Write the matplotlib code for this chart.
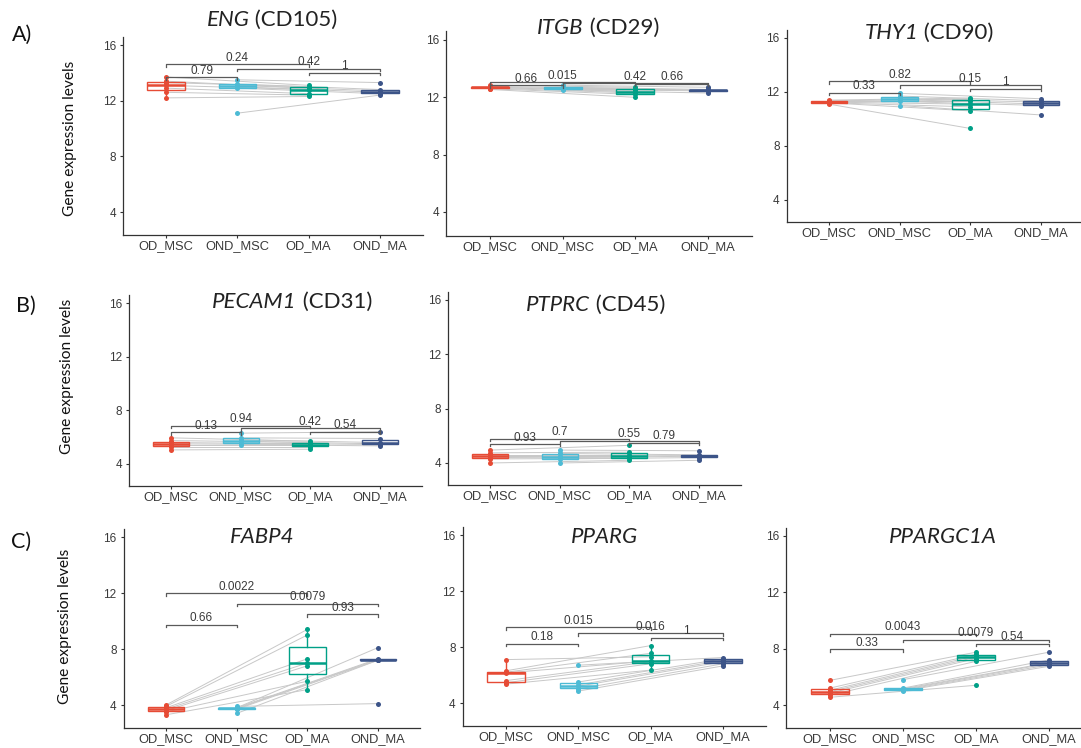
import numpy as np
import matplotlib
matplotlib.use("Agg")
import matplotlib.pyplot as plt

groups = ["OD_MSC", "OND_MSC", "OD_MA", "OND_MA"]
group_colors = ["#E64B35", "#4DBBD5", "#00A087", "#3C5488"]

# Pairwise tests shown as brackets (group indices)
comparisons = [(0, 1), (0, 2), (1, 3), (2, 3)]
# Paired samples joined by grey lines: OD_MSC -> OD_MA, OND_MSC -> OND_MA
pairs = [(0, 2), (1, 3)]

y_ticks = [4, 8, 12, 16]

# Expression values per group, listed in sample (pair) order:
# [OD_MSC, OND_MSC, OD_MA, OND_MA]
eng = [[13.7, 13.4, 13.3, 13.1, 12.9, 12.6, 12.2],
       [13.5, 13.2, 13.1, 13.0, 12.9, 11.1],
       [13.1, 12.9, 13.0, 12.8, 12.5, 12.4, 12.3],
       [13.3, 12.8, 12.7, 12.6, 12.5, 12.4]]
itgb = [[12.85, 12.75, 12.7, 12.7, 12.65, 12.6, 12.55],
        [12.85, 12.7, 12.65, 12.6, 12.55, 12.5],
        [12.7, 12.6, 12.5, 12.4, 12.3, 12.2, 12.0],
        [12.7, 12.55, 12.5, 12.5, 12.45, 12.3]]
thy1 = [[11.4, 11.35, 11.3, 11.25, 11.2, 11.2, 11.1],
        [11.9, 11.7, 11.5, 11.45, 11.3, 11.0],
        [11.55, 11.45, 11.3, 11.1, 10.9, 10.6, 9.3],
        [11.5, 11.35, 11.25, 11.1, 11.0, 10.3]]
pecam1 = [[5.95, 5.75, 5.6, 5.5, 5.4, 5.3, 5.05],
          [6.3, 5.95, 5.8, 5.7, 5.55, 5.45],
          [5.7, 5.6, 5.5, 5.45, 5.4, 5.3, 5.1],
          [6.4, 5.9, 5.6, 5.5, 5.45, 5.35]]
ptprc = [[4.95, 4.75, 4.6, 4.5, 4.4, 4.3, 4.0],
         [4.95, 4.7, 4.5, 4.4, 4.3, 4.0],
         [5.3, 4.8, 4.6, 4.5, 4.45, 4.35, 4.2],
         [4.9, 4.6, 4.55, 4.5, 4.4, 4.2]]
fabp4 = [[4.0, 3.9, 3.8, 3.7, 3.6, 3.5, 3.3],
         [3.8, 3.8, 3.75, 3.7, 3.4, 3.9],
         [9.4, 9.0, 7.3, 7.0, 6.8, 5.7, 5.1],
         [8.1, 7.3, 7.25, 7.2, 7.2, 4.1]]
pparg = [[7.1, 6.3, 6.2, 6.15, 5.6, 5.45, 5.35],
         [6.7, 5.5, 5.3, 5.2, 5.0, 4.85],
         [7.3, 8.1, 7.55, 7.0, 6.95, 6.8, 6.35],
         [7.25, 7.15, 7.05, 6.95, 6.8, 6.65]]
ppargc1a = [[5.75, 5.2, 5.05, 4.95, 4.85, 4.7, 4.55],
            [5.8, 5.2, 5.15, 5.1, 5.05, 5.0],
            [7.75, 7.6, 7.5, 7.4, 7.3, 7.1, 5.4],
            [7.75, 7.2, 7.0, 6.95, 6.85, 6.75]]

# p-values and bracket heights, in the order of `comparisons`
eng_p, eng_by = ["0.79", "0.24", "0.42", "1"], [13.7, 14.6, 14.3, 14.0]
itgb_p, itgb_by = ["0.66", "0.015", "0.42", "0.66"], [12.85, 13.05, 13.0, 12.95]
thy1_p, thy1_by = ["0.33", "0.82", "0.15", "1"], [11.95, 12.8, 12.5, 12.25]
pecam1_p, pecam1_by = ["0.13", "0.94", "0.42", "0.54"], [6.35, 6.85, 6.65, 6.4]
ptprc_p, ptprc_by = ["0.93", "0.7", "0.55", "0.79"], [5.4, 5.8, 5.65, 5.5]
fabp4_p, fabp4_by = ["0.66", "0.0022", "0.0079", "0.93"], [9.75, 12.0, 11.25, 10.5]
pparg_p, pparg_by = ["0.18", "0.015", "0.016", "1"], [8.25, 9.4, 9.0, 8.65]
ppargc1a_p, ppargc1a_by = ["0.33", "0.0043", "0.0079", "0.54"], [7.95, 9.05, 8.65, 8.35]

# Gene names (italic) and protein names (upright)
gene_names = ["ENG", "ITGB", "THY1", "PECAM1", "PTPRC", "FABP4", "PPARG", "PPARGC1A"]
protein_names = [" (CD105)", " (CD29)", " (CD90)", " (CD31)", " (CD45)", "", "", ""]

W, H = 1081, 748
fig = plt.figure(figsize=(W / 100, H / 100), dpi=100)
renderer = fig.canvas.get_renderer()

TXT = "#3a3a3a"
TICK_FONT = "Liberation Sans"
LABEL_FONT = "Lato"

# per panel: values, p-values, bracket heights, title centre (px), and
# placement in px: x of first/last category, y of the 16 and 4 gridlines
panels = [
    (eng, eng_p, eng_by, (272, 20), (166, 380, 45, 212)),
    (itgb, itgb_p, itgb_by, (598, 28), (490, 708, 40, 212)),
    (thy1, thy1_p, thy1_by, (929, 33), (829, 1041, 38, 200)),
    (pecam1, pecam1_p, pecam1_by, (292, 302), (171, 380, 303, 464)),
    (ptprc, ptprc_p, ptprc_by, (596, 305), (490, 699, 300, 463)),
    (fabp4, fabp4_p, fabp4_by, (262, 537), (166, 378, 537, 705)),
    (pparg, pparg_p, pparg_by, (604, 537), (506, 723, 535, 703)),
    (ppargc1a, ppargc1a_p, ppargc1a_by, (943, 537), (830, 1049, 536, 705)),
]

YLO, YHI = 2.35, 16.6
XLO, XHI = 0.4, 4.6


def draw_title(cx, cy, gene, protein):
    kw = dict(va="center", ha="left", fontsize=16, family=LABEL_FONT, color="#222222")
    t1 = fig.text(0, 1 - cy / H, gene, style="italic", **kw)
    t2 = fig.text(0, 1 - cy / H, protein, **kw)
    w1 = t1.get_window_extent(renderer).width
    w2 = t2.get_window_extent(renderer).width if protein else 0
    x0 = cx - (w1 + w2) / 2
    t1.set_x(x0 / W)
    t2.set_x((x0 + w1) / W)


for k, (values, pvals, bys, (tx, ty), (xa, xb, y16, y4)) in enumerate(panels):
    ppc = (xb - xa) / 3.0
    left = xa - (1 - XLO) * ppc
    right = xb + (XHI - 4) * ppc
    ppu = (y4 - y16) / 12.0
    top = y16 - (YHI - 16) * ppu
    bottom = y4 + (4 - YLO) * ppu
    ax = fig.add_axes([left / W, 1 - bottom / H, (right - left) / W, (bottom - top) / H])
    ax.set_xlim(XLO, XHI)
    ax.set_ylim(YLO, YHI)

    pos = np.arange(1, len(groups) + 1)

    # paired sample lines
    for a, b in pairs:
        for va, vb in zip(values[a], values[b]):
            ax.plot([pos[a], pos[b]], [va, vb], color="#c8c8c8", lw=0.7, zorder=1)

    # boxes and points
    for i, v in enumerate(values):
        c = group_colors[i]
        ax.boxplot([v], positions=[pos[i]], widths=0.52, showfliers=False,
                   showcaps=False, whis=1.5, patch_artist=True,
                   boxprops=dict(facecolor="none", edgecolor=c, lw=1.0),
                   whiskerprops=dict(color=c, lw=1.0),
                   medianprops=dict(color=c, lw=1.8),
                   zorder=2)
        ax.plot(np.full(len(v), pos[i]), v, "o", color=c, ms=3.6,
                mec="none", zorder=3)

    # significance brackets
    tip = 0.18
    for (a, b), p, y in zip(comparisons, pvals, bys):
        ax.plot([pos[a], pos[a], pos[b], pos[b]], [y - tip, y, y, y - tip],
                color="#5a5a5a", lw=0.9, zorder=4)
        ax.annotate(p, xy=((pos[a] + pos[b]) / 2, y), xytext=(0, 0.3),
                    textcoords="offset points", ha="center", va="bottom",
                    fontsize=8.5, family=TICK_FONT, color=TXT, zorder=5)

    ax.set_xticks(pos)
    ax.set_xticklabels(groups, fontsize=9.3, family=TICK_FONT, color=TXT)
    ax.set_yticks(y_ticks)
    ax.set_yticklabels([str(t) for t in y_ticks], fontsize=8.5, family=TICK_FONT, color=TXT)
    ax.tick_params(length=2.5, width=0.8, color="#333333")
    ax.tick_params(axis="x", pad=1.2)
    ax.tick_params(axis="y", pad=2.5)
    for s in ("top", "right"):
        ax.spines[s].set_visible(False)
    for s in ("left", "bottom"):
        ax.spines[s].set_color("#333333")
        ax.spines[s].set_linewidth(0.9)
    ax.patch.set_alpha(0)

    draw_title(tx, ty, gene_names[k], protein_names[k])

# row letters and y-axis labels
for letter, (lx, ly), yl in [("A)", (22, 35), (70, 138)),
                             ("B)", (26, 306), (67, 376)),
                             ("C)", (21, 542), (65, 626))]:
    fig.text(lx / W, 1 - ly / H, letter, ha="center", va="center",
             fontsize=15.5, family=LABEL_FONT, color="#111111")
    fig.text(yl[0] / W, 1 - yl[1] / H, "Gene expression levels", rotation=90,
             ha="center", va="center", fontsize=11.2, family=LABEL_FONT, color="#111111")

fig.savefig("out.png", dpi=100, facecolor="white")
